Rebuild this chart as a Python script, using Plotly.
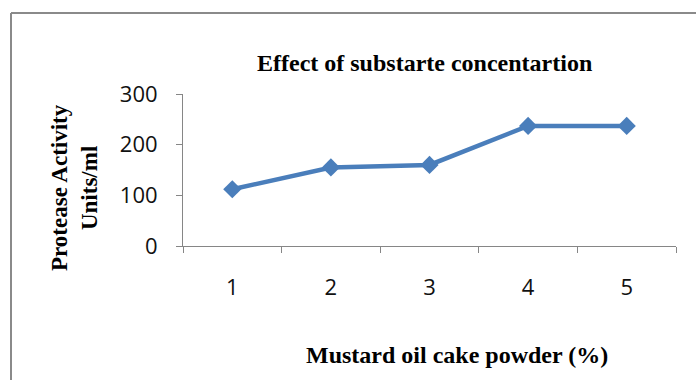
import plotly.graph_objects as go

# Substrate concentration vs. protease activity
concentration = ["1", "2", "3", "4", "5"]
activity = [112, 155, 160, 237, 237]
y_ticks = [0, 100, 200, 300]

W, H = 696, 380
L, R, T, B = 183, 20, 94, 134
pw, ph = W - L - R, H - T - B


def px_x(v):
    return (v - L) / pw


def px_y(v):
    return (H - B - v) / ph


serif = "Liberation Serif, Times New Roman, serif"
sans = "Open Sans, Calibri, sans-serif"
axis_grey = "#868686"
frame_grey = "#8a8a8a"
tick_font = dict(family=sans, size=22, color="#111111")

fig = go.Figure(
    go.Scatter(
        x=concentration,
        y=activity,
        mode="lines+markers",
        line=dict(color="#4a7ebb", width=4.5),
        marker=dict(symbol="diamond", size=14, color="#4a7ebb"),
        showlegend=False,
    )
)

fig.update_layout(
    width=W,
    height=H,
    margin=dict(l=L, r=R, t=T, b=B),
    paper_bgcolor="white",
    plot_bgcolor="white",
)

# Category axis: each value centred in its own slot, ticks on slot boundaries
fig.update_xaxes(
    type="category",
    range=[-0.5, len(concentration) - 0.5],
    tickson="boundaries",
    ticks="outside",
    ticklen=6,
    tickcolor=axis_grey,
    showline=True,
    linecolor=axis_grey,
    linewidth=1,
    showgrid=False,
    zeroline=False,
    tickfont=tick_font,
    ticklabelstandoff=22,
    automargin=False,
)

fig.update_yaxes(
    range=[0, 300],
    tickvals=y_ticks,
    ticks="outside",
    ticklen=6,
    tickcolor=axis_grey,
    showline=True,
    linecolor=axis_grey,
    linewidth=1,
    showgrid=False,
    zeroline=False,
    tickfont=tick_font,
    ticklabelstandoff=14,
    automargin=False,
)

annotations = [
    dict(
        text="<b>Effect of substarte concentartion</b>",
        x=px_x(424), y=px_y(63),
        font=dict(family=serif, size=24, color="black"),
    ),
    dict(
        text="<b>Mustard oil cake powder (%)</b>",
        x=px_x(457), y=px_y(355),
        font=dict(family=serif, size=24, color="black"),
    ),
    dict(
        text="<b>Protease Activity<br>Units/ml</b>",
        x=px_x(74), y=px_y(188),
        textangle=-90,
        font=dict(family=serif, size=23, color="black"),
    ),
]
for a in annotations:
    fig.add_annotation(xref="paper", yref="paper", showarrow=False,
                       xanchor="center", yanchor="middle", **a)

# Outer chart frame (left and top edges)
left, top = px_x(11), px_y(13)
fig.add_shape(type="line", xref="paper", yref="paper",
              x0=left, x1=left, y0=px_y(H + 10), y1=top,
              line=dict(color=frame_grey, width=2))
fig.add_shape(type="line", xref="paper", yref="paper",
              x0=left, x1=px_x(W + 10), y0=top, y1=top,
              line=dict(color=frame_grey, width=2))

fig.write_html("out.html")
